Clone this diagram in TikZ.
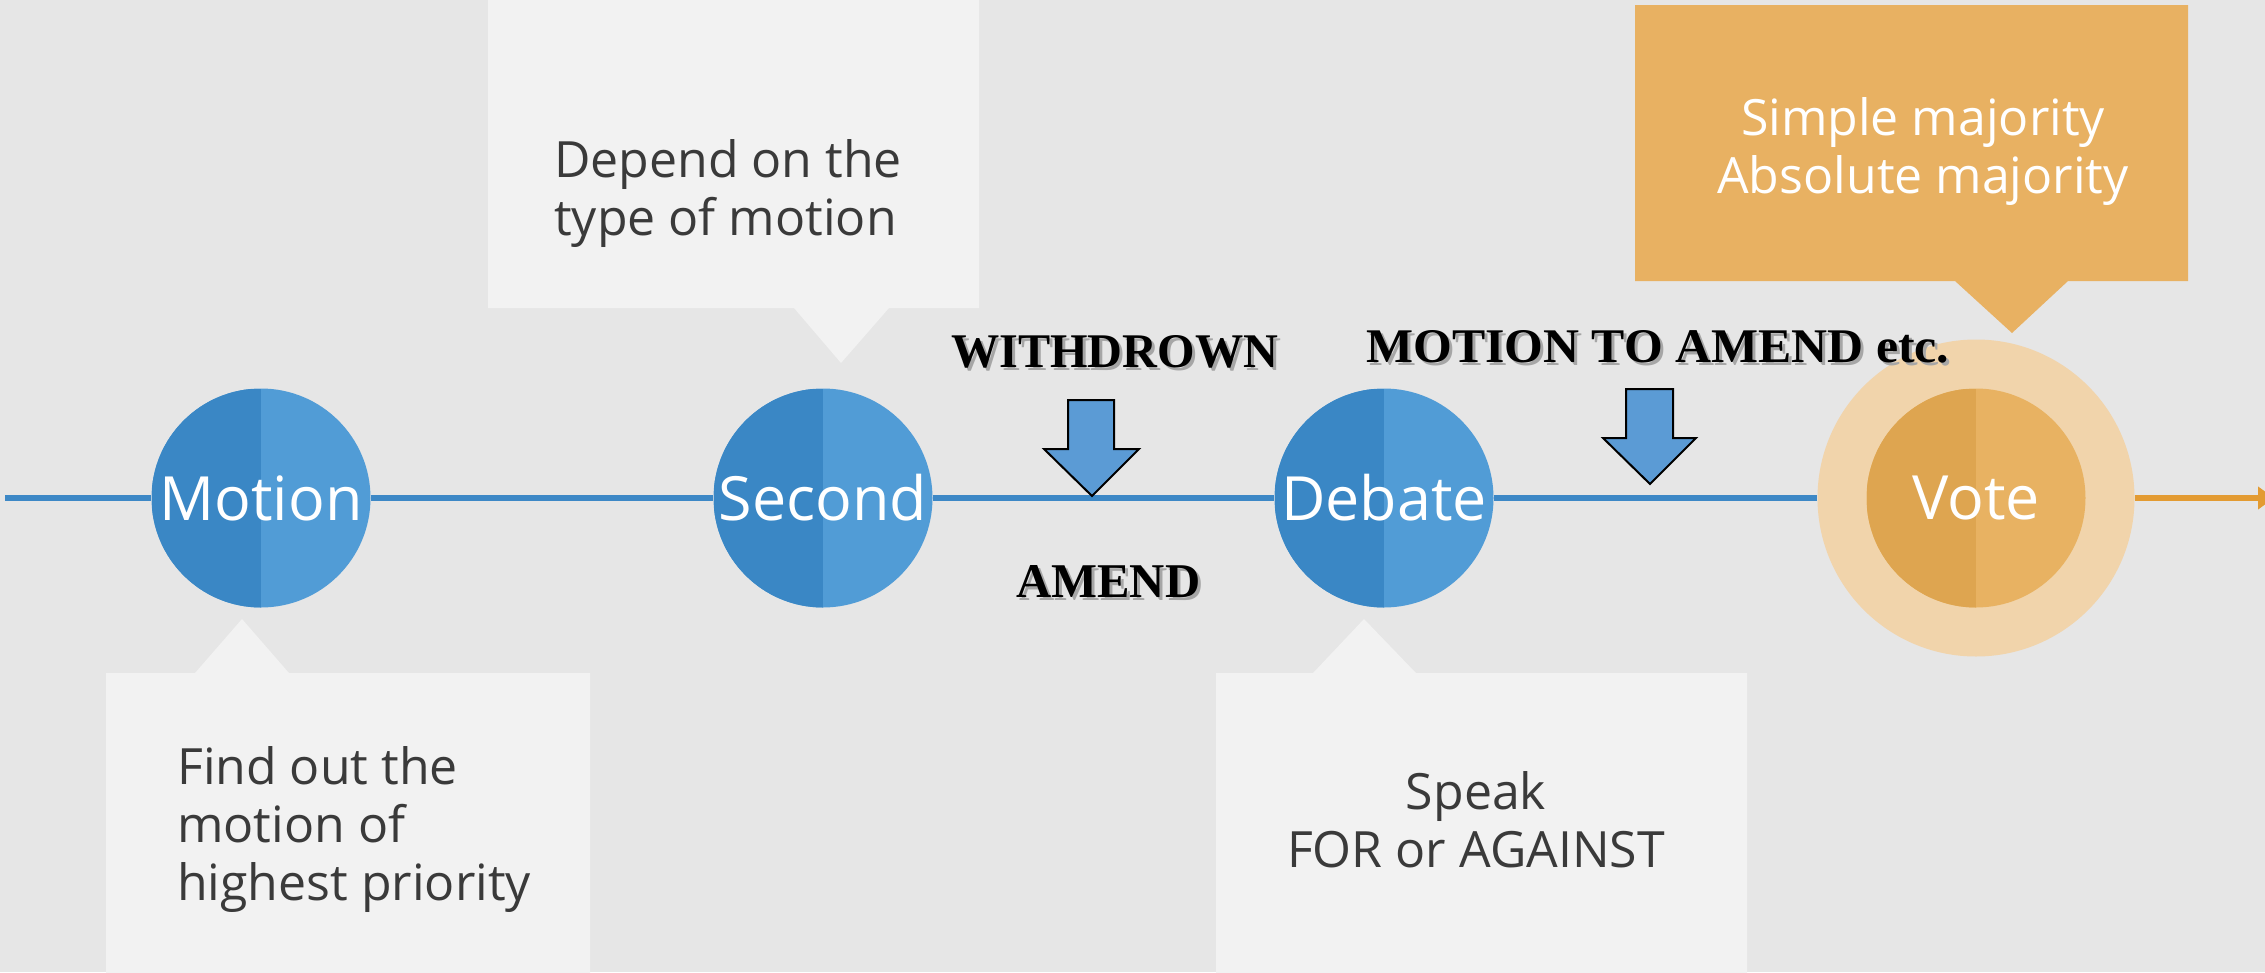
\documentclass[tikz,border=0pt]{standalone}
\usepackage{fontspec}
\usepackage{graphicx}
\setmainfont{Open Sans}
\newfontfamily\bwayfont{Liberation Serif}
\usetikzlibrary{arrows.meta}
\definecolor{bg}{HTML}{E6E6E6}
\definecolor{boxgray}{HTML}{F2F2F2}
\definecolor{textdark}{HTML}{3A3A3A}
\definecolor{bluedark}{HTML}{3A87C5}
\definecolor{bluelight}{HTML}{519CD6}
\definecolor{blueline}{HTML}{3D88C6}
\definecolor{arrowblue}{HTML}{5B9BD5}
\definecolor{orangedark}{HTML}{DEA550}
\definecolor{orangelight}{HTML}{E8B262}
\definecolor{orangering}{HTML}{F1D4AB}
\definecolor{orangebox}{HTML}{E8B162}
\definecolor{orangeline}{HTML}{E39B32}
\newcommand{\bwtext}[3]{\makebox[0pt][l]{\hspace{3pt}\raisebox{-3pt}{\color{black!35}\resizebox{#1}{#2}{\bwayfont\bfseries #3}}}\resizebox{#1}{#2}{\bwayfont\bfseries #3}}
\begin{document}
\begin{tikzpicture}[x=1pt,y=-1pt,
  bluecirc/.style={circle,minimum size=219pt,inner sep=0pt,fill=bluelight,
    path picture={\fill[bluedark] (path picture bounding box.south west) rectangle (path picture bounding box.north);}},
  orangecirc/.style={circle,minimum size=219pt,inner sep=0pt,fill=orangelight,
    path picture={\fill[orangedark] (path picture bounding box.south west) rectangle (path picture bounding box.north);}},
  ringcirc/.style={circle,minimum size=317pt,inner sep=0pt,fill=orangering},
  circlabel/.style={text=white,inner sep=0pt,font=\fontsize{61}{70}\selectfont},
  callout/.style={fill=boxgray},
  callouttext/.style={text=textdark,inner sep=0pt,font=\fontsize{50}{58}\selectfont},
  blockarrow/.style={fill=arrowblue,draw=black,line width=2pt,line join=miter},
  bwlabel/.style={inner sep=0pt,anchor=base west},
  timeline/.style={draw=blueline,line width=6pt},
]
\useasboundingbox (0,0) rectangle (2265,972);
\fill[bg] (0,0) rectangle (2265,972);

% callout boxes
\fill[callout] (488,-5) -- (979,-5) -- (979,308) -- (889,308) -- (841,363) -- (794,308) -- (488,308) -- cycle;
\fill[callout] (106,673) -- (195,673) -- (242,619) -- (289,673) -- (590,673) -- (590,980) -- (106,980) -- cycle;
\fill[callout] (1216,673) -- (1313,673) -- (1364,619) -- (1416,673) -- (1747,673) -- (1747,980) -- (1216,980) -- cycle;
\fill[orangebox] (1635,5) -- (2188,5) -- (2188,281) -- (2068,281) -- (2012,333) -- (1955,281) -- (1635,281) -- cycle;

% circles
\coordinate (start) at (5,498);
\coordinate (end) at (2274,498);
\node[bluecirc] (motion) at (261,498) {};
\node[bluecirc] (second) at (823,498) {};
\node[bluecirc] (debate) at (1384,498) {};
\node[ringcirc] (vring) at (1976,498) {};
\node[orangecirc] (vote) at (1976,498) {};

% timeline
\draw[timeline] (start) -- (motion);
\draw[timeline] (motion) -- (second);
\draw[timeline] (second) -- (debate);
\draw[timeline] (debate) -- (vring);
\draw[draw=orangeline,line width=6pt,-{Triangle[length=16pt,width=22pt]}] (vring) -- (end);

% circle labels
\node[circlabel] (motionlbl) at (motion.center) {Motion};
\node[circlabel] (secondlbl) at (second.center) {Second};
\node[circlabel] (debatelbl) at (debate.center) {Debate};
\node[circlabel] (votelbl) at (vote.center) {Vote};

% callout texts (base anchor = baseline of last line)
\node[callouttext,anchor=base west,align=left] (t1) at (554,235) {Depend on the\\type of motion};
\node[callouttext,anchor=base west,align=left] (t2) at (177,900) {Find out the\\motion of\\highest priority};
\node[callouttext,anchor=base,align=center] (t3) at (1476,867) {Speak\\FOR or AGAINST};
\node[callouttext,anchor=base,align=center,text=white] (t4) at (1923,193) {Simple majority\\Absolute majority};

% block arrows
\filldraw[blockarrow] (1068,400) -- (1114,400) -- (1114,449) -- (1139,449) -- (1092,496) -- (1044,449) -- (1068,449) -- cycle;
\filldraw[blockarrow] (1626,389) -- (1673,389) -- (1673,438) -- (1696,438) -- (1650,484) -- (1603,438) -- (1626,438) -- cycle;

% decorative labels
\node[bwlabel] (withdrown) at (951,367) {\bwtext{327pt}{32pt}{WITHDROWN}};
\node[bwlabel] (amend) at (1016,597) {\bwtext{184pt}{32pt}{AMEND}};
\node[bwlabel] (mta) at (1366,362) {\bwtext{583pt}{32pt}{MOTION TO AMEND etc.}};
\end{tikzpicture}
\end{document}
